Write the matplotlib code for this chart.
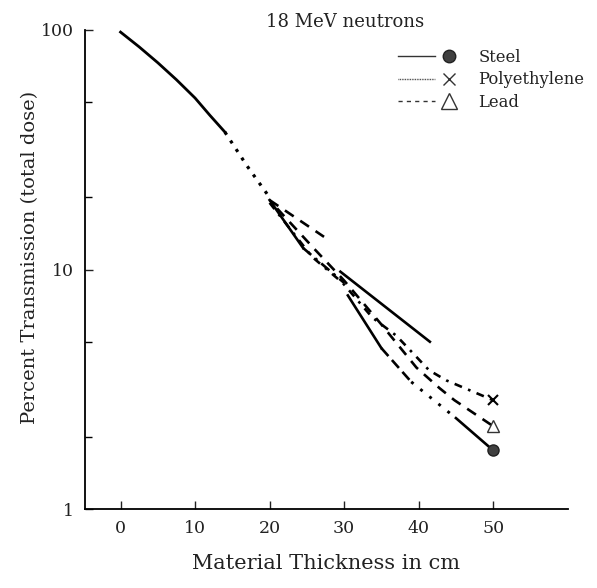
import matplotlib
matplotlib.use("Agg")
import matplotlib.pyplot as plt
from matplotlib.lines import Line2D
from matplotlib.legend_handler import HandlerBase
from matplotlib.ticker import FixedLocator, NullFormatter, FixedFormatter

plt.rcParams['font.family'] = ['DejaVu Serif']

# ---- data (thickness cm, percent transmission) ----
main_solid_x = [0, 2.5, 5, 7.5, 10, 12, 14]
main_solid_y = [98, 85, 73, 62, 52, 44, 37.5]
main_dot_x = [14, 17, 20]
main_dot_y = [37.5, 27, 20]

steel_a_x = [20, 24.5]
steel_a_y = [19.5, 12.3]
steel_b_x = [24.5, 30]
steel_b_y = [12.3, 8.8]
steel_c_x = [30.5, 35]
steel_c_y = [7.8, 4.7]
steel_d_x = [35, 39]
steel_d_y = [4.7, 3.4]
steel_e_x = [39, 45]
steel_e_y = [3.4, 2.4]
steel_f_x = [45, 50]
steel_f_y = [2.4, 1.76]

shallow_x = [29.5, 35, 41.5]
shallow_y = [9.8, 7.2, 5.0]

lead_short_x = [20, 27.3]
lead_short_y = [19.5, 13.7]

poly_x = [20, 25.7, 29.8, 33.8, 37, 41.4, 43.7, 50]
poly_y = [19, 11.3, 8.8, 6.3, 5.3, 3.8, 3.45, 2.85]

lead_x = [21, 26, 30, 35, 39.7, 42.8, 44.8, 50]
lead_y = [18, 12.2, 9.0, 5.9, 3.9, 3.2, 2.85, 2.22]

legend_labels = ["Steel", "Polyethylene", "Lead"]
x_ticks = [0, 10, 20, 30, 40, 50]
y_ticks = [1, 10, 100]
y_minor = [2, 5, 20, 50]

fig = plt.figure(figsize=(5.97, 5.88), dpi=100)
ax = fig.add_axes([0.142, 0.134, 0.809, 0.815])

lw = 1.9
k = 'black'
ax.plot(main_solid_x, main_solid_y, color=k, lw=2.0, ls='-')
ax.plot(main_dot_x, main_dot_y, color=k, lw=2.3, ls=(0, (1, 2.2)))
ax.plot(steel_a_x, steel_a_y, color=k, lw=lw, ls='-')
ax.plot(steel_b_x, steel_b_y, color=k, lw=lw, ls=(0, (4, 2, 1, 2)))
ax.plot(steel_c_x, steel_c_y, color=k, lw=lw, ls='-')
ax.plot(steel_d_x, steel_d_y, color=k, lw=lw, ls=(0, (4, 2)))
ax.plot(steel_e_x, steel_e_y, color=k, lw=2.1, ls=(0, (1, 3)))
ax.plot(steel_f_x, steel_f_y, color=k, lw=lw, ls='-')
ax.plot(shallow_x, shallow_y, color=k, lw=lw, ls='-')
ax.plot(lead_short_x, lead_short_y, color=k, lw=lw, ls=(0, (4, 3)))
ax.plot(poly_x, poly_y, color=k, lw=lw, ls=(0, (3, 2.5, 1, 2.5)))
ax.plot(lead_x, lead_y, color=k, lw=lw, ls=(0, (4, 3)))

ax.plot([steel_f_x[-1]], [steel_f_y[-1]], marker='o', ms=8, mfc='#404040', mec='#202020', ls='none')
ax.plot([poly_x[-1]], [poly_y[-1]], marker='x', ms=7, mew=1.5, color=k, ls='none')
ax.plot([lead_x[-1]], [lead_y[-1]], marker='^', ms=9, mfc='white', mec='#333333', mew=1.0, ls='none')

ax.set_yscale('log')
ax.set_ylim(1, 100)
ax.set_xlim(-4.8, 60)
ax.yaxis.set_major_locator(FixedLocator(y_ticks))
ax.yaxis.set_major_formatter(FixedFormatter([str(v) for v in y_ticks]))
ax.yaxis.set_minor_locator(FixedLocator(y_minor))
ax.yaxis.set_minor_formatter(NullFormatter())
ax.set_xticks(x_ticks)
ax.set_xticklabels([str(v) for v in x_ticks])
ax.tick_params(direction='in', length=6, width=1, labelsize=12.5, colors='#222222', pad=8)
ax.tick_params(which='minor', direction='in', length=5, width=1)
for s in ['top', 'right']:
    ax.spines[s].set_visible(False)
for s in ['left', 'bottom']:
    ax.spines[s].set_linewidth(1.3)

ax.set_xlabel('Material Thickness in cm', fontsize=15, labelpad=12, color='#222222')
ax.set_ylabel('Percent Transmission (total dose)', fontsize=14, color='#222222')
ax.yaxis.set_label_coords(-0.095, 0.525)
fig.text(0.578, 0.963, '18 MeV neutrons', ha='center', va='center', fontsize=13, color='#222222')


class LineMarkerHandler(HandlerBase):
    def __init__(self, ls, marker, ms, mfc, mec, mew=1.0):
        super().__init__()
        self.ls, self.marker, self.ms, self.mfc, self.mec, self.mew = ls, marker, ms, mfc, mec, mew

    def create_artists(self, legend, orig_handle, xdescent, ydescent, width, height, fontsize, trans):
        y = height / 2 - ydescent
        line = Line2D([-xdescent, -xdescent + width * 0.58], [y, y], color='#333333', lw=1.0, ls=self.ls, transform=trans)
        mk = Line2D([-xdescent + width * 0.80], [y], marker=self.marker, ms=self.ms, mfc=self.mfc,
                    mec=self.mec, mew=self.mew, ls='none', transform=trans)
        return [line, mk]


h1 = Line2D([], [])
h2 = Line2D([], [], ls=':')
h3 = Line2D([], [], ls='--')
handlers = {
    h1: LineMarkerHandler('-', 'o', 9, '#404040', '#222222'),
    h2: LineMarkerHandler((0, (0.6, 0.6)), 'x', 8, 'none', '#333333', 1.0),
    h3: LineMarkerHandler((0, (3, 3)), '^', 11, 'white', '#333333', 1.0),
}
leg = ax.legend([h1, h2, h3], legend_labels, handler_map=handlers, loc='upper left',
                bbox_to_anchor=(0.649, 0.961), frameon=False, fontsize=11.8, handlelength=3.9,
                handletextpad=1.0, labelspacing=0.35, borderpad=0, borderaxespad=0)
for t in leg.get_texts():
    t.set_color('#222222')

fig.savefig('out.png', dpi=100)
